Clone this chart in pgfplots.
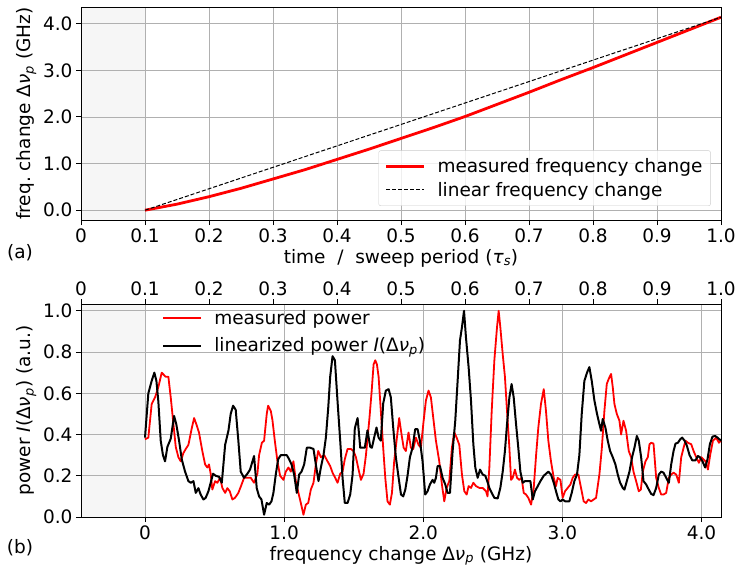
\documentclass[border=0pt]{standalone}
\usepackage{fontspec}
\setmainfont{DejaVu Sans}
\usepackage{pgfplots}
\pgfplotsset{compat=1.18}
\newcommand{\fs}{\fontsize{18.5bp}{21bp}\selectfont}
\definecolor{gridgray}{RGB}{176,176,176}
\definecolor{shade}{RGB}{246,246,246}
\definecolor{legframe}{RGB}{204,204,204}
\pgfplotsset{
  mpl/.style={
    scale only axis, width=640bp, height=213bp,
    set layers,
    grid=major, major grid style={gridgray, line width=0.8bp},
    axis line style={line width=1bp},
    tick align=outside, major tick length=5bp,
    major tick style={black, line width=1bp},
    tick pos=left,
    tick label style={font=\fs},
    label style={font=\fs},
    legend style={font=\fs, column sep=10bp},
    legend cell align=left,
    legend image code/.code={\draw[#1] (0bp,0bp) -- (38bp,0bp);},
  }
}
\begin{document}
\begin{tikzpicture}
% ---------------- panel (a)
\begin{axis}[mpl, at={(0,0)}, anchor=north west,
  xmin=0, xmax=1, ymin=-0.21, ymax=4.36,
  xtick={0,0.1,0.2,0.3,0.4,0.5,0.6,0.7,0.8,0.9,1},
  xticklabels={0,0.1,0.2,0.3,0.4,0.5,0.6,0.7,0.8,0.9,1.0},
  ytick={0,1,2,3,4}, yticklabels={0.0,1.0,2.0,3.0,4.0},
  xlabel={time~~/~~sweep period (\textit{τ}\textsubscript{\textit{s}})},
  ylabel={freq.\ change Δ\textit{ν}\textsubscript{\textit{p}} (GHz)},
  legend style={at={(0.984,0.066)}, anchor=south east, draw=legframe,
    rounded corners=2bp, fill=white, fill opacity=0.8, text opacity=1,
    inner sep=6bp, row sep=4bp},
]
\addplot[fill=shade, draw=none, on layer=axis background, forget plot]
  coordinates {(0,-0.21) (0.1,-0.21) (0.1,4.36) (0,4.36) (0,-0.21)};
\addplot[red, line width=2.8bp, line join=round] coordinates {
 (0.1,0) (0.15,0.13) (0.2,0.29) (0.25,0.47) (0.3,0.67) (0.35,0.87) (0.4,1.09)
 (0.45,1.31) (0.5,1.54) (0.55,1.77) (0.6,2.01) (0.65,2.27) (0.7,2.53)
 (0.75,2.80) (0.8,3.06) (0.85,3.33) (0.9,3.60) (0.95,3.87) (1.0,4.14)};
\addlegendentry{measured frequency change}
\addplot[black, line width=1bp, dash pattern=on 4bp off 2bp] coordinates {(0.1,0) (1.0,4.14)};
\addlegendentry{linear frequency change}
\end{axis}
% ---------------- panel (b)
\begin{axis}[mpl, at={(0,-297bp)}, anchor=north west,
  xmin=-0.46, xmax=4.14, ymin=0, ymax=1.033,
  xtick={0,1,2,3,4}, xticklabels={0,1.0,2.0,3.0,4.0},
  ytick={0,0.2,0.4,0.6,0.8,1.0}, yticklabels={0.0,0.2,0.4,0.6,0.8,1.0},
  xlabel={frequency change Δ\textit{ν}\textsubscript{\textit{p}} (GHz)},
  ylabel={power \textit{I}(Δ\textit{ν}\textsubscript{\textit{p}}) (a.u.)},
  legend style={at={(0.122,0.99)}, anchor=north west, draw=none, fill=none, row sep=8bp},
]
\addplot[fill=shade, draw=none, on layer=axis background, forget plot]
  coordinates {(-0.46,0) (0,0) (0,1.033) (-0.46,1.033) (-0.46,0)};
\addplot[red, line width=1.8bp, line join=round] coordinates {
(0,0.377) (0.024,0.385) (0.048,0.548) (0.072,0.58) (0.096,0.63) (0.12,0.70)
(0.149,0.68) (0.168,0.68) (0.185,0.58) (0.197,0.50) (0.221,0.34) (0.24,0.29)
(0.257,0.27) (0.276,0.31) (0.293,0.33) (0.312,0.35) (0.336,0.43) (0.353,0.48)
(0.369,0.45) (0.388,0.41) (0.412,0.32) (0.432,0.255) (0.448,0.24) (0.46,0.255)
(0.472,0.21) (0.484,0.133) (0.504,0.174) (0.52,0.166) (0.54,0.19) (0.556,0.141)
(0.576,0.117) (0.592,0.14) (0.609,0.125) (0.628,0.085) (0.647,0.093) (0.671,0.117)
(0.69,0.15) (0.712,0.19) (0.736,0.19) (0.76,0.19) (0.784,0.166) (0.808,0.21)
(0.82,0.30) (0.84,0.36) (0.856,0.37) (0.875,0.50) (0.885,0.54) (0.904,0.515)
(0.916,0.47) (0.933,0.37) (0.952,0.27) (0.971,0.20) (0.995,0.18) (1.012,0.22)
(1.031,0.24) (1.048,0.22) (1.067,0.27) (1.084,0.174) (1.1,0.125) (1.12,0.068)
(1.139,0.011) (1.156,0.06) (1.173,0.068) (1.192,0.133) (1.211,0.166) (1.228,0.255)
(1.245,0.32) (1.264,0.29) (1.288,0.30) (1.312,0.27) (1.331,0.247) (1.348,0.215)
(1.367,0.19) (1.384,0.166) (1.403,0.21) (1.42,0.22) (1.436,0.28) (1.456,0.33)
(1.48,0.33) (1.499,0.32) (1.516,0.29) (1.532,0.24) (1.552,0.18) (1.571,0.21)
(1.588,0.30) (1.612,0.47) (1.628,0.60) (1.643,0.74) (1.655,0.76) (1.667,0.74)
(1.679,0.68) (1.695,0.515) (1.712,0.336) (1.727,0.19) (1.743,0.076) (1.76,0.06)
(1.775,0.117) (1.791,0.27) (1.808,0.37) (1.827,0.48) (1.844,0.40) (1.859,0.336)
(1.875,0.32) (1.894,0.41) (1.911,0.336) (1.928,0.33) (1.947,0.385) (1.966,0.35)
(1.983,0.336) (2.0,0.45) (2.019,0.565) (2.038,0.613) (2.055,0.58) (2.072,0.48)
(2.091,0.37) (2.115,0.27) (2.134,0.158) (2.151,0.076) (2.168,0.141) (2.187,0.174)
(2.206,0.336) (2.223,0.41) (2.24,0.385) (2.259,0.35) (2.278,0.206) (2.295,0.125)
(2.312,0.109) (2.326,0.15) (2.343,0.141) (2.36,0.166) (2.379,0.15) (2.403,0.141)
(2.427,0.141) (2.451,0.125) (2.462,0.10) (2.475,0.24) (2.492,0.515) (2.511,0.76)
(2.53,0.92) (2.542,1.0) (2.554,0.92) (2.571,0.79) (2.587,0.68) (2.602,0.515)
(2.619,0.336) (2.631,0.18) (2.643,0.19) (2.659,0.23) (2.674,0.19) (2.69,0.18)
(2.707,0.19) (2.722,0.117) (2.739,0.109) (2.755,0.093) (2.775,0.06) (2.794,0.141)
(2.811,0.30) (2.827,0.434) (2.846,0.548) (2.866,0.62) (2.882,0.515) (2.899,0.37)
(2.918,0.27) (2.938,0.19) (2.954,0.15) (2.966,0.19) (2.986,0.18) (3.002,0.093)
(3.019,0.125) (3.038,0.141) (3.058,0.158) (3.074,0.19) (3.091,0.206) (3.115,0.206)
(3.134,0.141) (3.153,0.076) (3.17,0.068) (3.187,0.085) (3.206,0.076) (3.225,0.085)
(3.242,0.093) (3.266,0.206) (3.283,0.33) (3.302,0.515) (3.319,0.645) (3.333,0.67)
(3.35,0.694) (3.362,0.63) (3.374,0.548) (3.391,0.5) (3.41,0.467) (3.422,0.40)
(3.439,0.467) (3.458,0.418) (3.477,0.32) (3.494,0.29) (3.511,0.22) (3.53,0.174)
(3.549,0.125) (3.564,0.133) (3.578,0.22) (3.597,0.27) (3.614,0.29) (3.626,0.353)
(3.638,0.36) (3.655,0.356) (3.674,0.19) (3.693,0.141) (3.71,0.109) (3.727,0.109)
(3.746,0.117) (3.765,0.19) (3.782,0.206) (3.799,0.215) (3.818,0.206) (3.837,0.166)
(3.854,0.29) (3.871,0.336) (3.885,0.37) (3.902,0.36) (3.926,0.353) (3.943,0.32)
(3.962,0.29) (3.981,0.263) (3.998,0.29) (4.014,0.28) (4.029,0.27) (4.046,0.23)
(4.062,0.30) (4.082,0.37) (4.106,0.385) (4.125,0.36) (4.14,0.37)};
\addlegendentry{measured power}
\addplot[black, line width=2bp, line join=round] coordinates {
(0,0.385) (0.024,0.60) (0.048,0.66) (0.067,0.70) (0.082,0.66) (0.096,0.56)
(0.113,0.37) (0.129,0.30) (0.144,0.27) (0.161,0.34) (0.185,0.38) (0.209,0.49)
(0.225,0.45) (0.245,0.37) (0.264,0.28) (0.288,0.22) (0.312,0.174) (0.329,0.166)
(0.348,0.174) (0.365,0.117) (0.384,0.14) (0.4,0.109) (0.42,0.085) (0.436,0.093)
(0.456,0.125) (0.472,0.166) (0.489,0.21) (0.508,0.2) (0.532,0.195) (0.552,0.166)
(0.576,0.35) (0.6,0.42) (0.616,0.50) (0.633,0.54) (0.652,0.52) (0.671,0.37)
(0.688,0.22) (0.712,0.19) (0.736,0.21) (0.755,0.23) (0.784,0.296) (0.803,0.14)
(0.82,0.1) (0.837,0.085) (0.856,0.011) (0.875,0.068) (0.892,0.06) (0.909,0.076)
(0.923,0.117) (0.94,0.206) (0.957,0.28) (0.976,0.30) (1.0,0.30) (1.019,0.30)
(1.036,0.28) (1.053,0.255) (1.072,0.206) (1.091,0.117) (1.108,0.206) (1.125,0.22)
(1.144,0.255) (1.163,0.336) (1.187,0.336) (1.211,0.33) (1.228,0.255) (1.247,0.174)
(1.264,0.24) (1.283,0.30) (1.3,0.385) (1.317,0.53) (1.331,0.68) (1.348,0.78)
(1.365,0.76) (1.384,0.56) (1.403,0.37) (1.42,0.19) (1.436,0.068) (1.456,0.068)
(1.475,0.109) (1.492,0.206) (1.508,0.43) (1.528,0.48) (1.547,0.336) (1.564,0.336)
(1.58,0.336) (1.599,0.42) (1.619,0.34) (1.631,0.336) (1.647,0.385) (1.664,0.434)
(1.679,0.385) (1.695,0.37) (1.712,0.55) (1.731,0.613) (1.751,0.62) (1.767,0.58)
(1.784,0.434) (1.803,0.29) (1.823,0.19) (1.84,0.109) (1.856,0.1) (1.871,0.133)
(1.887,0.2) (1.904,0.29) (1.923,0.336) (1.942,0.426) (1.959,0.426) (1.976,0.37)
(1.995,0.27) (2.014,0.109) (2.031,0.125) (2.048,0.158) (2.067,0.18) (2.079,0.166)
(2.091,0.19) (2.103,0.247) (2.12,0.247) (2.139,0.19) (2.158,0.158) (2.175,0.117)
(2.192,0.117) (2.211,0.32) (2.23,0.467) (2.247,0.66) (2.264,0.857) (2.278,0.92)
(2.293,1.0) (2.307,0.87) (2.326,0.727) (2.343,0.565) (2.36,0.353) (2.374,0.24)
(2.391,0.19) (2.408,0.23) (2.427,0.206) (2.446,0.2) (2.462,0.17) (2.475,0.141)
(2.492,0.117) (2.511,0.093) (2.535,0.09) (2.554,0.141) (2.571,0.22) (2.587,0.32)
(2.602,0.45) (2.619,0.58) (2.635,0.645) (2.65,0.58) (2.667,0.45) (2.683,0.336)
(2.698,0.22) (2.715,0.166) (2.731,0.174) (2.751,0.174) (2.77,0.174) (2.787,0.085)
(2.803,0.125) (2.823,0.15) (2.842,0.174) (2.866,0.2) (2.899,0.22) (2.918,0.206)
(2.938,0.166) (2.954,0.125) (2.971,0.085) (2.986,0.076) (3.002,0.085) (3.019,0.076)
(3.05,0.076) (3.067,0.117) (3.086,0.174) (3.105,0.206) (3.122,0.30) (3.139,0.5)
(3.158,0.66) (3.177,0.70) (3.194,0.727) (3.211,0.66) (3.23,0.565) (3.249,0.5)
(3.266,0.45) (3.278,0.418) (3.29,0.475) (3.309,0.434) (3.326,0.37) (3.343,0.32)
(3.362,0.29) (3.381,0.255) (3.398,0.206) (3.415,0.166) (3.434,0.141) (3.446,0.133)
(3.463,0.174) (3.482,0.22) (3.501,0.29) (3.518,0.336) (3.535,0.393) (3.549,0.37)
(3.566,0.29) (3.583,0.174) (3.602,0.158) (3.621,0.133) (3.638,0.112) (3.655,0.106)
(3.674,0.141) (3.693,0.206) (3.71,0.22) (3.727,0.215) (3.746,0.19) (3.765,0.166)
(3.782,0.255) (3.799,0.32) (3.813,0.356) (3.83,0.36) (3.847,0.377) (3.861,0.385)
(3.878,0.37) (3.895,0.345) (3.914,0.30) (3.933,0.275) (3.957,0.275) (3.974,0.296)
(3.988,0.29) (4.007,0.27) (4.026,0.24) (4.043,0.28) (4.06,0.353) (4.079,0.39)
(4.098,0.393) (4.115,0.385) (4.14,0.37)};
\addlegendentry{linearized power \textit{I}(Δ\textit{ν}\textsubscript{\textit{p}})}
\end{axis}
% top ticks of panel (b): time axis
\begin{axis}[scale only axis, width=640bp, height=213bp, at={(0,-297bp)}, anchor=north west,
  xmin=0, xmax=1, ymin=0, ymax=1,
  axis x line*=top, axis y line=none,
  axis line style={line width=1bp, -},
  tick align=outside, major tick length=5bp,
  major tick style={black, line width=1bp},
  tick label style={font=\fs},
  xtick={0,0.1,0.2,0.3,0.4,0.5,0.6,0.7,0.8,0.9,1},
  xticklabels={0,0.1,0.2,0.3,0.4,0.5,0.6,0.7,0.8,0.9,1.0},
]
\end{axis}
\node[font=\fs] at (-61bp,-246bp) {(a)};
\node[font=\fs] at (-61bp,-541bp) {(b)};
\pgfresetboundingbox
\path[use as bounding box] (-81bp,7bp) rectangle (655bp,-566bp);
\end{tikzpicture}
\end{document}
